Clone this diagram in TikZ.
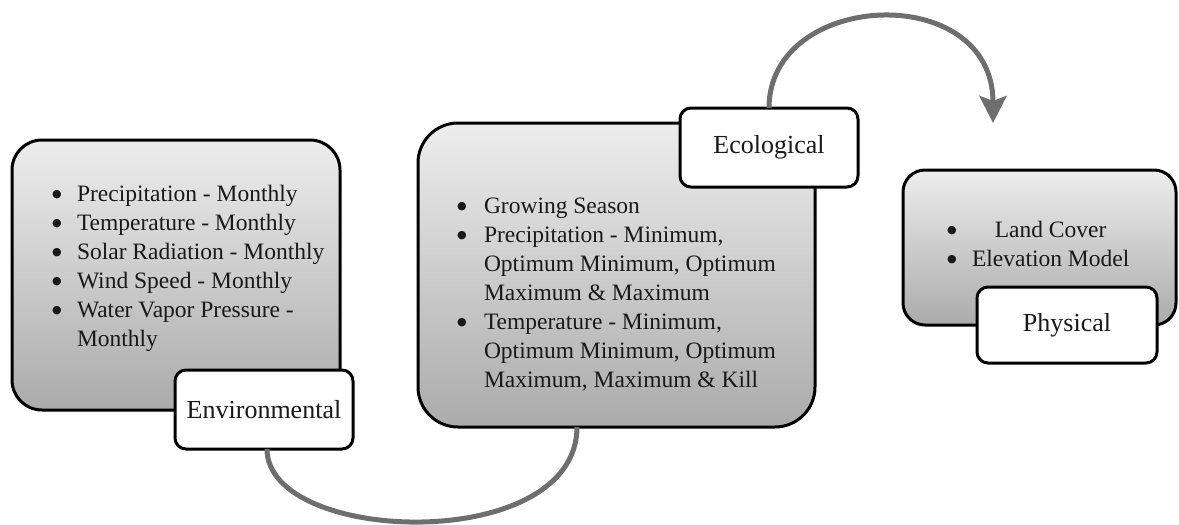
\documentclass[tikz,border=0pt]{standalone}
\usepackage{fontspec}
\setmainfont{Liberation Serif}
\newfontfamily\bulfont{DejaVu Sans}
\newcommand\mybul{\makebox[8pt][c]{\raisebox{3.2pt}{\bulfont\fontsize{11}{29}\selectfont ●}}}
\usetikzlibrary{arrows.meta}
\definecolor{conngray}{HTML}{6E6E6E}
\begin{document}
\begin{tikzpicture}[x=1pt,y=-1pt,
  bigbox/.style={draw=black, line width=3pt, top color=black!7, bottom color=black!33, inner sep=0pt, outer sep=0pt},
  labbox/.style={draw=black, line width=3pt, fill=white, rounded corners=11pt, inner sep=0pt, outer sep=0pt, font=\fontsize{26}{30}\selectfont, text=black!90},
  listtext/.style={anchor=base west, inner sep=0pt, outer sep=0pt, font=\fontsize{23.5}{29}\selectfont, text=black!90},
  conn/.style={draw=conngray, line width=5pt}]
\useasboundingbox (0,0) rectangle (1179,525);

% big boxes
\node[bigbox, rounded corners=30pt, minimum width=328pt, minimum height=270pt] (env) at (176,275) {};
\node[bigbox, rounded corners=40pt, minimum width=397pt, minimum height=304pt] (eco) at (616.5,275) {};
\node[bigbox, rounded corners=22pt, minimum width=273pt, minimum height=155pt] (phys) at (1039.5,247.5) {};

% lists
\node[listtext] (envlist) at (53,201) {\begin{tabular}[t]{@{}l@{\hspace{16pt}}l@{}}
\mybul & Precipitation - Monthly\\
\mybul & Temperature - Monthly\\
\mybul & Solar Radiation - Monthly\\
\mybul & Wind Speed - Monthly\\
\mybul & Water Vapor Pressure -\\
 & Monthly
\end{tabular}};
\node[listtext] (ecolist) at (458,213) {\begin{tabular}[t]{@{}l@{\hspace{18pt}}l@{}}
\mybul & Growing Season\\
\mybul & Precipitation - Minimum,\\
 & Optimum Minimum, Optimum\\
 & Maximum \& Maximum\\
\mybul & Temperature - Minimum,\\
 & Optimum Minimum, Optimum\\
 & Maximum, Maximum \& Kill
\end{tabular}};
\node[listtext] (physlist) at (948,237) {\begin{tabular}[t]{@{}l@{\hspace{16pt}}c@{}}
\mybul & Land Cover\\
\mybul & Elevation Model
\end{tabular}};

% label boxes
\node[labbox, minimum width=178pt, minimum height=79pt] (envlab) at (264,409.5) {Environmental};
\node[labbox, minimum width=178pt, minimum height=79pt] (ecolab) at (769,147.5) {Ecological};
\node[labbox, minimum width=180pt, minimum height=76pt] (physlab) at (1067,325) {Physical};

% connectors
\coordinate (tip) at (993,123);
\draw[conn] ([xshift=3pt]envlab.south) .. controls (267,545) and (577,555) .. ([xshift=-39.5pt]eco.south);
\draw[conn, -{Stealth[length=27pt, width=27pt, inset=5pt]}] (ecolab.north) .. controls (769,-10) and (993,-20) .. (tip);
\end{tikzpicture}
\end{document}
